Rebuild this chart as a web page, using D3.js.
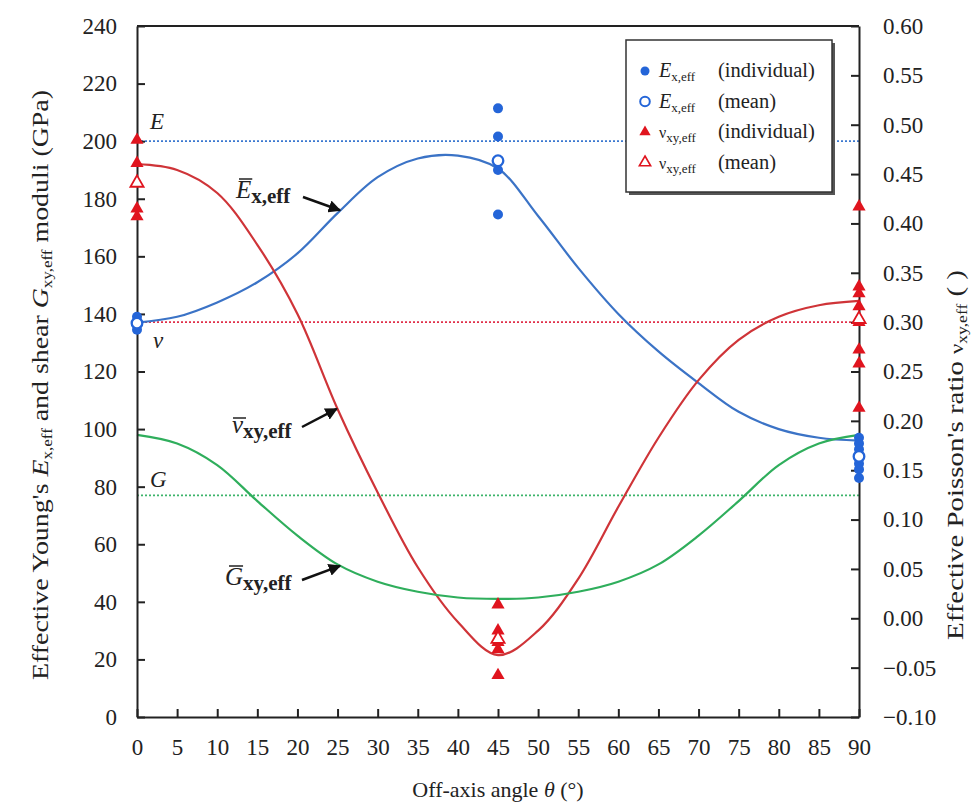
<!DOCTYPE html>
<html><head><meta charset="utf-8">
<script src="https://cdn.jsdelivr.net/npm/d3@7"></script>
<style>
body{margin:0;background:#fff;}
svg text{font-family:"Liberation Serif","Times New Roman",serif !important;}
</style></head>
<body><svg id="c" width="978" height="807"></svg>
<script>
// ---------- data ----------
const thetaTicks = [0,5,10,15,20,25,30,35,40,45,50,55,60,65,70,75,80,85,90];
const leftTicks = [0,20,40,60,80,100,120,140,160,180,200,220,240];
const rightTicks = [-0.10,-0.05,0.00,0.05,0.10,0.15,0.20,0.25,0.30,0.35,0.40,0.45,0.50,0.55,0.60];
const fitTheta = [0,5,10,15,20,25,30,35,40,45,50,55,60,65,70,75,80,85,90];
const fitE   = [137,139,144,151,161,175,187.5,194,195,190.5,174,156,140,127,116,106,100,97,96];
const fitNuL = [192,190,182,164,140,107,78,52,33,21.5,30,48,73,97,117,131,139,143,144.5]; // in left-axis units
const fitG   = [98,95,87.5,75,63,53,47,43.5,41.5,41,41.5,43.5,47,53,63,75,87.5,95,98];
const refE = 200, refNu = 0.30, refG = 77;
const eIndTheta = [0,0,0,45,45,45,45,90,90,90,90,90,90];
const eIndVal   = [139,137,134.5,211.4,201.6,190,174.5,97,95,93,88,86,83];
const eMeanTheta = [0,45,90];
const eMeanVal   = [136.8,193.2,90.5];
const nuIndTheta = [0,0,0,0,45,45,45,45,45,90,90,90,90,90,90,90,90];
const nuIndVal   = [0.4845,0.461,0.415,0.407,0.0138,-0.0125,-0.0242,-0.0315,-0.0577,0.417,0.336,0.329,0.316,0.300,0.272,0.258,0.213];
const nuMeanTheta = [0,45,90];
const nuMeanVal   = [0.441,-0.021,0.303];

// ---------- layout ----------
const svg = d3.select("#c");
const X0=137, X1=859, Y0=717, Y1=26;
const x = d3.scaleLinear().domain([0,90]).range([X0,X1]);
const yL = d3.scaleLinear().domain([0,240]).range([Y0,Y1]);
const yR = d3.scaleLinear().domain([-0.1,0.6]).range([Y0,Y1]);
const cBlue="#2465d8", cBlueLine="#3b73c6", cRed="#e0141e", cRedLine="#cf3438", cGreen="#2fae5c";
const axisCol="#222";
const FONT="Liberation Serif, Times New Roman, serif";

const refs=[[yL(refE),"#3b78d0"],[yR(refNu),"#e0304a"],[yL(refG),"#3cb46a"]];
refs.forEach(r=>svg.append("line").attr("x1",X0).attr("x2",X1).attr("y1",r[0]).attr("y2",r[0])
  .attr("stroke",r[1]).attr("stroke-width",1.8).attr("stroke-dasharray","2,2"));

const line = d3.line().curve(d3.curveCatmullRom.alpha(0.5));
function drawFit(vals, col){
  svg.append("path").attr("d",line(fitTheta.map((t,i)=>[x(t),yL(vals[i])])))
    .attr("fill","none").attr("stroke",col).attr("stroke-width",2.2);
}
drawFit(fitE,cBlueLine); drawFit(fitNuL,cRedLine); drawFit(fitG,cGreen);

function styleAxis(g){g.attr("font-family",FONT);
  g.selectAll("path,line").attr("stroke",axisCol).attr("stroke-width",2);
  g.selectAll("text").attr("font-size",23).attr("fill","#222").style("font-family",FONT);}
svg.append("g").attr("transform",`translate(0,${Y0})`)
  .call(d3.axisBottom(x).tickValues(thetaTicks).tickSizeInner(-8).tickSizeOuter(0).tickPadding(22).tickFormat(d3.format("d"))).call(styleAxis);
svg.append("g").attr("transform",`translate(${X0},0)`)
  .call(d3.axisLeft(yL).tickValues(leftTicks).tickSizeInner(-8).tickSizeOuter(0).tickPadding(20).tickFormat(d3.format("d"))).call(styleAxis);
svg.append("g").attr("transform",`translate(${X1},0)`)
  .call(d3.axisRight(yR).tickValues(rightTicks).tickSizeInner(-8).tickSizeOuter(0).tickPadding(24)
  .tickFormat(d=>d3.format(".2f")(d).replace("-","–"))).call(styleAxis);
svg.append("line").attr("x1",X0).attr("x2",X1).attr("y1",Y1).attr("y2",Y1).attr("stroke",axisCol).attr("stroke-width",2);

const tri = d3.symbol().type(d3.symbolTriangle).size(75);
nuIndTheta.forEach((t,i)=>svg.append("path").attr("d",tri())
  .attr("transform",`translate(${x(t)},${yR(nuIndVal[i])})`).attr("fill",cRed));
nuMeanTheta.forEach((t,i)=>svg.append("path").attr("d",tri())
  .attr("transform",`translate(${x(t)},${yR(nuMeanVal[i])})`).attr("fill","#fff").attr("stroke",cRed).attr("stroke-width",1.8));
eIndTheta.forEach((t,i)=>svg.append("circle").attr("cx",x(t)).attr("cy",yL(eIndVal[i])).attr("r",5).attr("fill",cBlue));
eMeanTheta.forEach((t,i)=>svg.append("circle").attr("cx",x(t)).attr("cy",yL(eMeanVal[i])).attr("r",5.3)
  .attr("fill","#fff").attr("stroke",cBlue).attr("stroke-width",2.3));

function lab(tx,ty,s){return svg.append("text").attr("x",tx).attr("y",ty).attr("font-size",23).attr("font-style","italic").attr("fill","#222").text(s);}
lab(150,129,"E"); lab(153,348,"ν"); lab(150,487,"G");

svg.append("defs").append("marker").attr("id","ah").attr("viewBox","0 0 10 10").attr("refX",9).attr("refY",5)
  .attr("markerWidth",5).attr("markerHeight",5).attr("orient","auto")
  .append("path").attr("d","M0,0 L10,5 L0,10 z").attr("fill","#111");

function annot(bx,by,base,sub,ax,ay,tipT,tipV,b0,b1,bdy){
  const t = svg.append("text").attr("x",bx).attr("y",by).attr("fill","#222");
  const b = t.append("tspan").attr("font-style","italic").attr("font-size",25).text(base);
  t.append("tspan").attr("font-size",21).attr("dy",5).attr("font-weight","bold").text(sub);
  const bb = b.node().getBBox();
  svg.append("line").attr("x1",bb.x+b0).attr("x2",bb.x+bb.width+b1).attr("y1",bb.y+bdy).attr("y2",bb.y+bdy).attr("stroke","#222").attr("stroke-width",1.5);
  svg.append("line").attr("x1",ax).attr("y1",ay).attr("x2",x(tipT)).attr("y2",yL(tipV))
    .attr("stroke","#111").attr("stroke-width",2.5).attr("marker-end","url(#ah)");
}
annot(236,198,"E","x,eff",303,197,25.3,176,4,1,3);
annot(232,433,"ν","xy,eff",302,427,24.9,107,1,2,7);
annot(225,585,"G","xy,eff",302,580,25.3,52.5,4,0,3);

// legend
const lg = svg.append("g");
lg.append("rect").attr("x",629).attr("y",43).attr("width",206).attr("height",152).attr("fill","#555");
lg.append("rect").attr("x",626).attr("y",40).attr("width",206).attr("height",152).attr("fill","#fff").attr("stroke","#333").attr("stroke-width",1.5);
const legRows=[["E","x,eff","(individual)","fc"],["E","x,eff","(mean)","oc"],["ν","xy,eff","(individual)","ft"],["ν","xy,eff","(mean)","ot"]];
legRows.forEach((r,i)=>{
  const yy = 71 + i*30.5;
  if(r[3]==="fc") lg.append("circle").attr("cx",645).attr("cy",yy).attr("r",4.5).attr("fill",cBlue);
  if(r[3]==="oc") lg.append("circle").attr("cx",645).attr("cy",yy).attr("r",4.8).attr("fill","#fff").attr("stroke",cBlue).attr("stroke-width",2);
  if(r[3]==="ft") lg.append("path").attr("d",d3.symbol().type(d3.symbolTriangle).size(55)()).attr("transform",`translate(645,${yy})`).attr("fill",cRed);
  if(r[3]==="ot") lg.append("path").attr("d",d3.symbol().type(d3.symbolTriangle).size(55)()).attr("transform",`translate(645,${yy})`).attr("fill","#fff").attr("stroke",cRed).attr("stroke-width",1.6);
  const t = lg.append("text").attr("x",659).attr("y",yy+6).attr("fill","#222");
  t.append("tspan").attr("font-style",r[0]==="E"?"italic":"normal").attr("font-size",r[0]==="E"?20:16).text(r[0]);
  t.append("tspan").attr("font-size",13).attr("dy",4).text(r[1]);
  lg.append("text").attr("x",718).attr("y",yy+6).attr("font-size",20.5).attr("fill","#222").text(r[2]);
});

// axis titles
const xt = svg.append("text").attr("x",498).attr("y",797).attr("text-anchor","middle").attr("font-size",22).attr("fill","#222");
xt.append("tspan").text("Off-axis angle ");
xt.append("tspan").attr("font-style","italic").text("θ");
xt.append("tspan").text(" (°)");

const lt = svg.append("text").attr("transform","translate(48,385) rotate(-90)").attr("text-anchor","middle").attr("font-size",23).attr("fill","#222");
lt.append("tspan").text("Effective Young's ");
lt.append("tspan").attr("font-style","italic").text("E");
lt.append("tspan").attr("font-size",14).attr("dy",4).text("x,eff");
lt.append("tspan").attr("dy",-4).text(" and shear ");
lt.append("tspan").attr("font-style","italic").text("G");
lt.append("tspan").attr("font-size",14).attr("dy",4).text("xy,eff");
lt.append("tspan").attr("dy",-4).text(" moduli (GPa)");
lt.attr("textLength",590).attr("lengthAdjust","spacingAndGlyphs");

const rt = svg.append("text").attr("transform","translate(963,455) rotate(-90)").attr("text-anchor","middle").attr("font-size",23).attr("fill","#222");
rt.append("tspan").text("Effective Poisson's ratio  ");
rt.append("tspan").attr("font-size",18).text("ν");
rt.append("tspan").attr("font-size",14).attr("dy",4).text("xy,eff");
rt.append("tspan").attr("dy",-4).text("  (   )");
rt.attr("textLength",370).attr("lengthAdjust","spacingAndGlyphs");
</script></body></html>
